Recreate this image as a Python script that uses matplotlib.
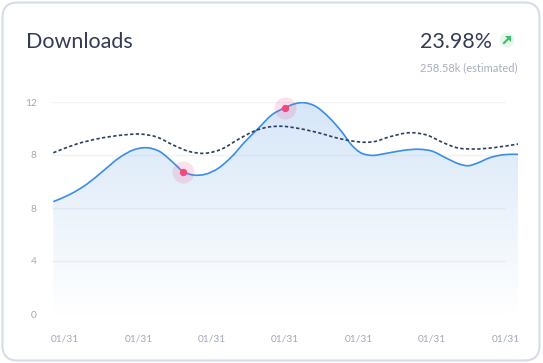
import numpy as np
import matplotlib
matplotlib.use('Agg')
import matplotlib.pyplot as plt
from matplotlib.path import Path
from matplotlib.patches import PathPatch, FancyBboxPatch, Circle, Polygon

plt.rcParams['font.family'] = ['Lato', 'DejaVu Sans']

W, H = 543, 363

# y axis is evenly spaced, the picture really does print 8 twice
y_pos = [0, 4, 8, 12, 16]
y_labels = ['0', '4', '8', '8', '12']
x_pos = [0, 1, 2, 3, 4, 5, 6]
x_labels = ['01/31'] * 7

# values
blue_x = [-0.159, 0.068, 0.296, 0.522, 0.749, 0.931, 1.113, 1.294, 1.475, 1.612, 1.748, 1.907,
          2.089, 2.271, 2.452, 2.634, 2.816, 2.997, 3.134, 3.247, 3.406, 3.587, 3.77, 3.906,
          4.019, 4.155, 4.383, 4.609, 4.837, 4.996, 5.2, 5.381, 5.495, 5.609, 5.79, 5.971, 6.172]
blue_y = [8.48, 9.03, 9.79, 10.81, 11.83, 12.38, 12.55, 12.25, 11.42, 10.74, 10.49, 10.54,
          11.0, 11.87, 13.0, 14.01, 15.02, 15.57, 15.87, 15.95, 15.7, 14.89, 13.76, 12.75,
          12.2, 11.98, 12.13, 12.35, 12.43, 12.3, 11.75, 11.3, 11.19, 11.37, 11.8, 12.02, 12.05]
dash_x = [-0.159, 0.159, 0.477, 0.794, 1.022, 1.249, 1.475, 1.703, 1.907, 2.135, 2.361, 2.589,
          2.77, 2.952, 3.178, 3.451, 3.723, 3.906, 4.087, 4.2, 4.428, 4.7, 4.928, 5.154,
          5.337, 5.563, 5.835, 6.172]
dash_y = [12.17, 12.83, 13.26, 13.51, 13.58, 13.36, 12.75, 12.25, 12.13, 12.45, 13.18, 13.83,
          14.11, 14.17, 14.01, 13.68, 13.26, 13.06, 12.96, 13.0, 13.38, 13.68, 13.51, 12.93,
          12.55, 12.45, 12.55, 12.83]
hot_x = [1.612, 2.997]
hot_y = [10.74, 15.57]

title = 'Downloads'
change = '23.98%'
note = '258.58k (estimated)'


def smooth_path(xs, ys):
    # cubic segments through the read points
    xs = np.array(xs)
    ys = np.array(ys)
    slopes = np.gradient(ys, xs)
    verts = [(xs[0], ys[0])]
    codes = [Path.MOVETO]
    for i in range(len(xs) - 1):
        d = (xs[i + 1] - xs[i]) / 3
        verts += [(xs[i] + d, ys[i] + slopes[i] * d),
                  (xs[i + 1] - d, ys[i + 1] - slopes[i + 1] * d),
                  (xs[i + 1], ys[i + 1])]
        codes += [Path.CURVE4] * 3
    return verts, codes


fig = plt.figure(figsize=(W / 100, H / 100), dpi=100, facecolor='white')

# card and header, in pixel coordinates
bg = fig.add_axes([0, 0, 1, 1])
bg.set_xlim(0, W)
bg.set_ylim(H, 0)
bg.axis('off')
bg.add_patch(FancyBboxPatch((2.5, 2.5), 537, 358, boxstyle='round,pad=0,rounding_size=15',
                            fc='white', ec='#d5dbe8', lw=1.5))
bg.text(26.5, 42, title, fontsize=15.5, color='#333b55', va='center', ha='left')
bg.text(420, 42, change, fontsize=15.4, color='#333b55', va='center', ha='left')
bg.text(518, 67.5, note, fontsize=8, color='#a9afc0', va='center', ha='right')
bg.add_patch(Circle((507, 40), 7.2, fc='#e6f7ec', ec='none'))
bg.plot([504, 509.5], [43, 37.5], color='#3dbd6a', lw=1.5)
bg.add_patch(Polygon([(505, 36), (511, 36), (511, 42)], closed=True, fc='#3dbd6a', ec='none'))

ax = fig.add_axes([52 / W, 1 - 314 / H, 466 / W, 212 / H])
ax.patch.set_alpha(0)
for s in ax.spines.values():
    s.set_visible(False)

verts, codes = smooth_path(blue_x, blue_y)

# gradient under the line
grad = np.ones((200, 2, 4))
t = np.linspace(0, 1, 200)[:, None]
top = np.array([214, 230, 248]) / 255
grad[:, :, :3] = (top * (1 - t) + t)[:, None, :].reshape(200, 1, 3)
xl = (-0.177, 6.172)
im = ax.imshow(grad, extent=[xl[0], xl[1], 0, 16], aspect='auto', zorder=1)
fill = Path(verts + [(blue_x[-1], 0), (blue_x[0], 0), (blue_x[0], blue_y[0])],
            codes + [Path.LINETO, Path.LINETO, Path.LINETO])
im.set_clip_path(PathPatch(fill, transform=ax.transData))

ax.hlines(y_pos, xl[0], 6.0, color='#8a9ab5', alpha=0.12, lw=1, zorder=2)

ax.add_patch(PathPatch(Path(verts, codes), fc='none', ec='#3a8ee6', lw=1.2, zorder=3))
dv, dc = smooth_path(dash_x, dash_y)
ax.add_patch(PathPatch(Path(dv, dc), fc='none', ec='#2b3f63', lw=1.2,
                       ls=(0, (2, 1.4)), zorder=4))

ax.scatter(hot_x, hot_y, s=250, color='#f0487f', alpha=0.16, linewidths=0, zorder=5, clip_on=False)
ax.scatter(hot_x, hot_y, s=28, color='#f0487f', linewidths=0, zorder=6, clip_on=False)

ax.set_xlim(*xl)
ax.set_ylim(0, 16)
ax.set_xticks(x_pos, x_labels)
ax.set_yticks(y_pos, y_labels)
ax.tick_params(axis='both', length=0, labelsize=7.3, labelcolor='#a3a8b8')
ax.tick_params(axis='y', pad=11)
ax.tick_params(axis='x', pad=15)

fig.savefig('out.png', dpi=100)
